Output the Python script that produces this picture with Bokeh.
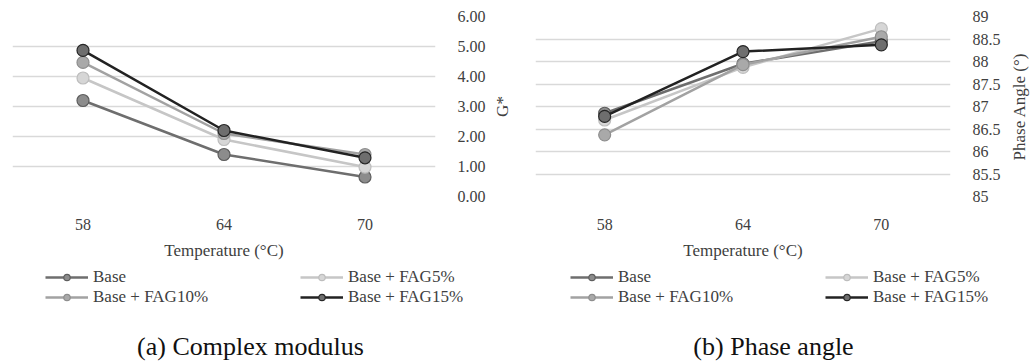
import math
from bokeh.plotting import figure
from bokeh.layouts import row, column
from bokeh.models import (Legend, LegendItem, Label, FixedTicker, Range1d,
                          NumeralTickFormatter)
from bokeh.embed import file_html
from bokeh.resources import INLINE

temperatures = ["58", "64", "70"]
series_names = ["Base", "Base + FAG5%", "Base + FAG10%", "Base + FAG15%"]

g_base = [3.20, 1.40, 0.65]
g_fag5 = [3.95, 1.90, 0.98]
g_fag10 = [4.47, 2.10, 1.40]
g_fag15 = [4.87, 2.20, 1.29]

pa_base = [86.85, 87.95, 88.45]
pa_fag5 = [86.70, 87.87, 88.73]
pa_fag10 = [86.37, 87.93, 88.55]
pa_fag15 = [86.78, 88.22, 88.37]

g_ticks = [0, 1, 2, 3, 4, 5, 6]
pa_ticks = [85, 85.5, 86, 86.5, 87, 87.5, 88, 88.5, 89]

# styles: (line colour, marker fill, marker outline)
styles = [("#6e6e6e", "#8c8c8c", "#5e5e5e"),
          ("#c6c6c6", "#d6d6d6", "#bdbdbd"),
          ("#a2a2a2", "#a9a9a9", "#8e8e8e"),
          ("#222222", "#6e6e6e", "#262626")]

FONT = "Liberation Serif"
TOP_H = 262
BOT_H = 363 - TOP_H


def strip(width, height):
    f = figure(x_range=Range1d(0, 1), y_range=Range1d(0, 1), width=width, height=height,
               output_backend="svg", toolbar_location=None,
               min_border_left=0, min_border_right=0, min_border_top=0, min_border_bottom=0)
    f.frame_align = False
    f.axis.visible = False
    f.grid.grid_line_color = None
    f.outline_line_color = None
    f.border_fill_color = "white"
    return f


def make_panel(values, yr, ticks, ylabel, caption, width, label_w, label_x,
               border_left, border_right, leg_x, cap_x, fmt=None, overrides=None):
    p = figure(x_range=temperatures, y_range=Range1d(*yr), width=width - label_w, height=TOP_H,
               output_backend="svg", toolbar_location=None, y_axis_location="right",
               min_border_left=border_left, min_border_right=border_right,
               min_border_top=16, min_border_bottom=TOP_H - 196)
    p.outline_line_color = None
    p.background_fill_color = "white"
    p.border_fill_color = "white"
    p.xgrid.grid_line_color = None
    p.ygrid.grid_line_color = "#d9d9d9"
    p.ygrid.grid_line_width = 1.6
    p.yaxis.ticker = FixedTicker(ticks=ticks)
    if fmt is not None:
        p.yaxis.formatter = fmt
    if overrides is not None:
        p.yaxis.major_label_overrides = overrides
    for ax in (p.xaxis, p.yaxis):
        ax.axis_line_color = None
        ax.major_tick_line_color = None
        ax.minor_tick_line_color = None
        ax.major_label_text_font = FONT
        ax.major_label_text_color = "#404040"
        ax.axis_label_text_font = FONT
        ax.axis_label_text_font_style = "normal"
        ax.axis_label_text_color = "#404040"
    p.xaxis.major_label_text_font_size = "16px"
    p.xaxis.major_label_standoff = 16
    p.xaxis.axis_label = "Temperature (°C)"
    p.xaxis.axis_label_text_font_size = "17px"
    p.xaxis.axis_label_standoff = 8
    p.yaxis.major_label_text_font_size = "16px"
    p.yaxis.major_label_standoff = 16

    for vals, (lc, fc, oc) in zip(values, styles):
        p.line(temperatures, vals, line_color=lc, line_width=2.5)
        p.scatter(temperatures, vals, size=12, fill_color=fc, line_color=oc, line_width=1.2)

    # y-axis title, reading bottom to top
    lab = strip(label_w, TOP_H)
    lab.add_layout(Label(x=label_x, y=TOP_H - 106, x_units="screen", y_units="screen",
                         text=ylabel, angle=math.pi / 2, text_font=FONT,
                         text_font_size="17px", text_color="#404040",
                         text_align="center", text_baseline="middle"))

    # bottom strip: legend and caption
    b = strip(width, BOT_H)
    items = []
    for name, (lc, fc, oc) in zip(series_names, styles):
        lr = b.line([-5, -4], [-5, -4], line_color=lc, line_width=2.5)
        sr = b.scatter([-5], [-5], size=12, fill_color=fc, line_color=oc, line_width=1.2)
        items.append(LegendItem(label=name, renderers=[lr, sr]))
    for lx, its in ((leg_x, [items[0], items[2]]), (leg_x + 255, [items[1], items[3]])):
        lg = Legend(items=its, location=(lx, 56), padding=0, margin=0, spacing=-1,
                    glyph_width=43, glyph_height=16, label_height=16, label_standoff=5,
                    label_text_font=FONT, label_text_font_size="17px",
                    label_text_color="#404040", border_line_color=None,
                    background_fill_alpha=0)
        b.add_layout(lg)
    b.add_layout(Label(x=cap_x, y=17, x_units="screen", y_units="screen", text=caption,
                       text_font=FONT, text_font_size="26px", text_color="#111111",
                       text_align="center", text_baseline="middle"))
    return column(row(p, lab), b)


c1 = make_panel([g_base, g_fag5, g_fag10, g_fag15], (0, 6), g_ticks, "G*",
                "(a) Complex modulus", 520, 28, 10, 12, 57, 45, 250,
                fmt=NumeralTickFormatter(format="0.00"))
c2 = make_panel([pa_base, pa_fag5, pa_fag10, pa_fag15], (85, 89), pa_ticks, "Phase Angle (°)",
                "(b) Phase angle", 510, 27, 16, 15, 53, 50, 253,
                overrides={t: ("%g" % t) for t in pa_ticks})

layout = row(c1, c2)
open("out.html", "w").write(file_html(layout, INLINE))
